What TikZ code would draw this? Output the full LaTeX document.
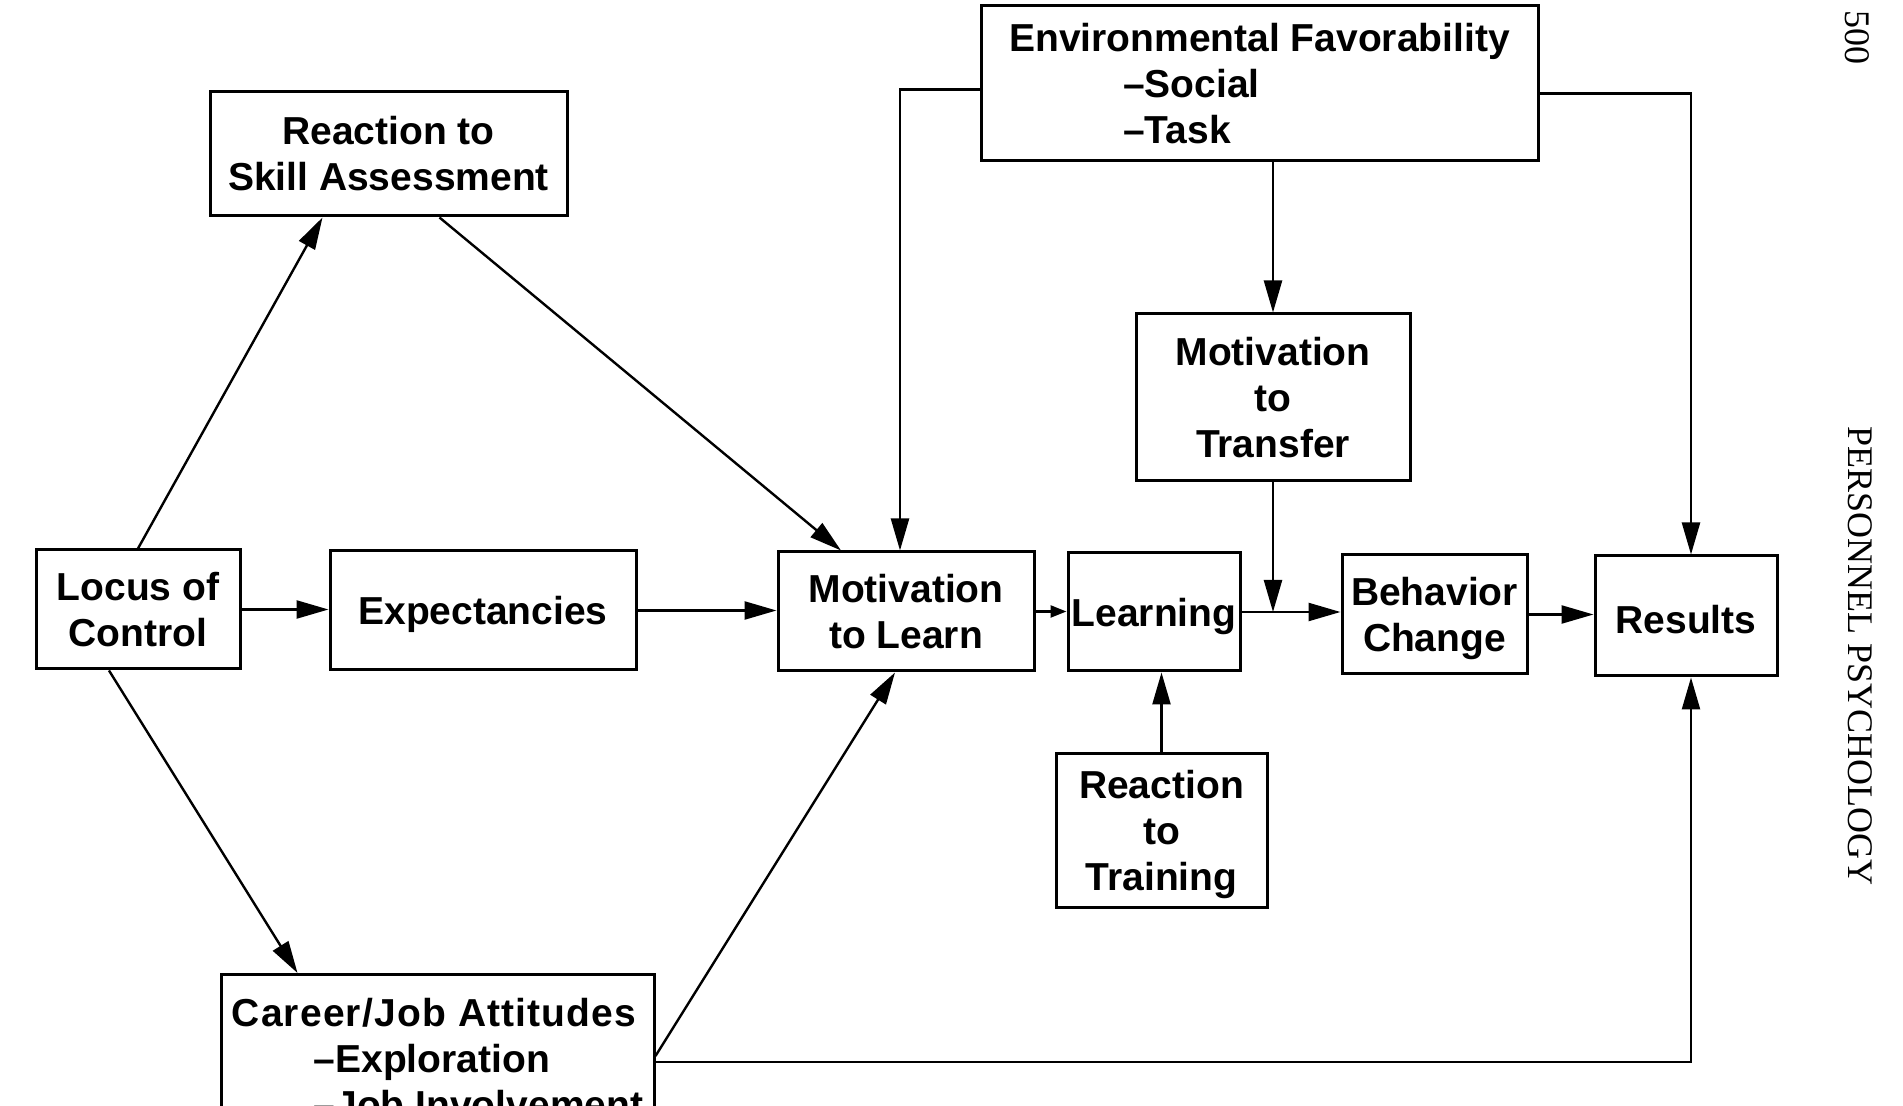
\documentclass[tikz,border=0pt]{standalone}
\usepackage{fontspec}
\setmainfont{Liberation Sans}
\newfontfamily\journalfont{Liberation Serif}
\usetikzlibrary{arrows.meta, calc}

\begin{document}
\begin{tikzpicture}[x=0.5pt, y=-0.5pt,
		block/.style={draw, line width=1.5pt, align=center, inner sep=0pt, font=\bfseries\fontsize{19.5}{23}\selectfont},
		oneline/.style={text height=14.2pt, text depth=0pt},
		arr/.style={line width=1.2pt, -{Triangle[length=16pt, width=9pt]}},
		shortarr/.style={line width=1.2pt, -{Triangle[length=8pt, width=6pt]}},
		journal/.style={font=\journalfont\fontsize{18}{20}\selectfont, rotate=-90}]
		
		\useasboundingbox (0,0) rectangle (1903,1106);
		\clip (0,0) rectangle (1903,1106);
		
		% Boxes
		\node[block, minimum width=102pt, minimum height=59.5pt] (locus) at (138,609.5) {Locus of\\Control};
		\node[block, oneline, minimum width=153pt, minimum height=59.5pt] (expect) at (483,610.5) {Expectancies};
		\node[block, minimum width=178.5pt, minimum height=62pt] (skill) at (388.5,154) {Reaction to\\Skill Assessment};
		\node[block, minimum width=128pt, minimum height=59.5pt] (motlearn) at (906,611.5) {Motivation\\to Learn};
		\node[block, oneline, minimum width=86pt, minimum height=59pt] (learning) at (1154,612) {Learning};
		\node[block, minimum width=92.5pt, minimum height=59.5pt] (behavior) at (1434.5,614.5) {Behavior\\Chan\smash{g}e};
		\node[block, oneline, text height=18pt, minimum width=91pt, minimum height=60pt] (results) at (1686,616) {Results};
		\node[block, align=left, minimum width=278.5pt, minimum height=77.5pt] (envfav) at (1259.5,83.5) {Environmental Favorability\\\hspace*{57pt}--Social\\\hspace*{57pt}--Task};
		\node[block, minimum width=137pt, minimum height=83.5pt] (mottrans) at (1273,397.5) {Motivation\\to\\Transfer};
		\node[block, minimum width=105.5pt, minimum height=77pt] (reactrain) at (1161.5,831) {Reaction\\to\\Trainin\smash{g}};
		\node[block, align=left, anchor=north, minimum width=216.5pt, minimum height=84pt] (career) at (437.5,973) {{\addfontfeature{LetterSpace=3}Career/Job Attitudes}\\\hspace*{41pt}--Exploration\\\hspace*{41pt}--Job Involvement};
		
		% Page margin
		\node[journal] (page) at (1857,38) {500};
		\node[journal] (jname) at (1860,656) {PERSONNEL PSYCHOLOGY};
		
		% Main chain
		\draw[arr] (locus.east) -- (locus.east -| expect.west);
		\draw[arr] (expect.east) -- (expect.east -| motlearn.west);
		\draw[shortarr] (motlearn.east) -- (motlearn.east -| learning.west);
		\draw[arr] (learning.east) -- (learning.east -| behavior.west);
		\draw[arr] (behavior.east) -- (behavior.east -| results.west);
		
		% Locus of control paths
		\draw[arr] (locus.north) -- ($(skill.south)+(-66,0)$);
		\draw[arr] ($(skill.south)+(51,0)$) -- ($(motlearn.north)+(-65,0)$);
		\draw[arr] ($(locus.south)+(-29,0)$) -- ($(career.north)+(-140,0)$);
		\draw[arr] ($(career.north east)+(0,83)$) -- ($(motlearn.south)+(-11,0)$);
		\draw[arr] ($(career.north east)+(0,89)$) -| ($(results.south)+(5,0)$);
		
		% Environment paths
		\draw[arr] ($(envfav.west)+(0,6)$) -| ($(motlearn.north)+(-6,0)$);
		\draw[arr] ($(envfav.east)+(0,10)$) -| ($(results.north)+(5,0)$);
		\draw[arr] (envfav.south -| mottrans.north) -- (mottrans.north);
		
		% Into the learning line
		\coordinate (merge) at (mottrans.south |- learning.east);
		\draw[arr] (mottrans.south) -- (merge);
		\draw[arr] (reactrain.north) -- (reactrain.north |- learning.south);
		
	\end{tikzpicture}
\end{document}
